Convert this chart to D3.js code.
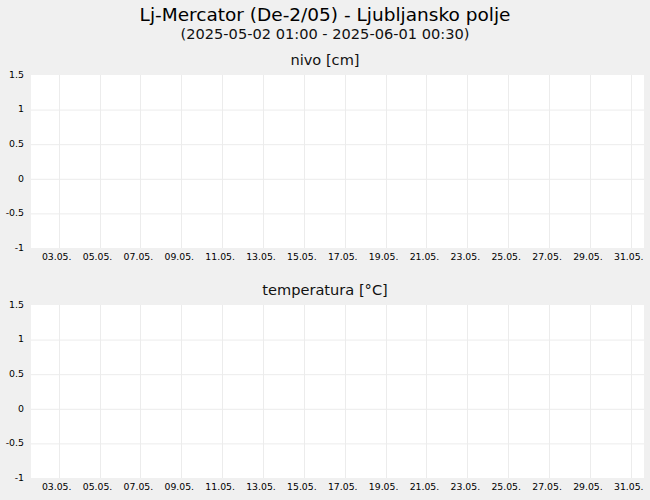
<!DOCTYPE html>
<html>
<head>
<meta charset="utf-8">
<script src="https://cdn.jsdelivr.net/npm/d3@7"></script>
<style>
  body { margin: 0; background: #f0f0f0; }
  svg { display: block; font-family: "DejaVu Sans", sans-serif; }
</style>
</head>
<body>
<svg id="chart" width="650" height="500"></svg>
<script>
// chart texts
var title = "Lj-Mercator (De-2/05) - Ljubljansko polje";
var subtitle = "(2025-05-02 01:00 - 2025-06-01 00:30)";
var panelTitles = ["nivo [cm]", "temperatura [°C]"];

// time range shown on the x axis (as drawn in the picture)
var xStart = "2025-05-01T15:30:00Z";
var xEnd = "2025-05-31T15:30:00Z";

// x tick dates and labels
var tickDates = ["2025-05-03", "2025-05-05", "2025-05-07", "2025-05-09", "2025-05-11",
                 "2025-05-13", "2025-05-15", "2025-05-17", "2025-05-19", "2025-05-21",
                 "2025-05-23", "2025-05-25", "2025-05-27", "2025-05-29", "2025-05-31"];
var tickLabels = ["03.05.", "05.05.", "07.05.", "09.05.", "11.05.", "13.05.", "15.05.", "17.05.",
                  "19.05.", "21.05.", "23.05.", "25.05.", "27.05.", "29.05.", "31.05."];

// y ticks (empty series -> default range)
var yTicks = [-1, -0.5, 0, 0.5, 1, 1.5];
var yTickLabels = ["-1", "-0.5", "0", "0.5", "1", "1.5"];

// series values (no measurements in the period)
var nivo = [];
var temperatura = [];

var svg = d3.select("#chart");

svg.append("text")
  .attr("x", 325).attr("y", 20.5)
  .attr("text-anchor", "middle")
  .style("font-size", "18.5px")
  .text(title);

svg.append("text")
  .attr("x", 325).attr("y", 39)
  .attr("text-anchor", "middle")
  .style("font-size", "14.6px")
  .style("fill", "#111")
  .text(subtitle);

var x = d3.scaleUtc()
  .domain([new Date(xStart), new Date(xEnd)])
  .range([31, 644]);

function drawPanel(offset, name, series) {
  var top = 75 + offset, bottom = 248 + offset;
  var y = d3.scaleLinear().domain([-1, 1.5]).range([bottom, top]);
  var g = svg.append("g");

  g.append("text")
    .attr("x", 325).attr("y", 64.5 + offset)
    .attr("text-anchor", "middle")
    .style("font-size", "14.6px")
    .style("fill", "#111")
    .text(name);

  g.append("rect")
    .attr("x", x.range()[0]).attr("y", top)
    .attr("width", x.range()[1] - x.range()[0])
    .attr("height", bottom - top)
    .style("fill", "#fff");

  // horizontal grid
  g.selectAll(".hgrid")
    .data(yTicks.slice(1, -1))
    .enter()
    .append("line")
      .attr("x1", x.range()[0]).attr("x2", x.range()[1])
      .attr("y1", function(d){ return y(d) + 0.5 })
      .attr("y2", function(d){ return y(d) + 0.5 })
      .style("stroke", "#ececec");

  // vertical grid
  g.selectAll(".vgrid")
    .data(tickDates)
    .enter()
    .append("line")
      .attr("x1", function(d){ return Math.round(x(new Date(d))) + 0.5 })
      .attr("x2", function(d){ return Math.round(x(new Date(d))) + 0.5 })
      .attr("y1", top).attr("y2", bottom)
      .style("stroke", "#ececec");

  // y labels
  g.selectAll(".ylab")
    .data(yTicks)
    .enter()
    .append("text")
      .attr("x", 24)
      .attr("y", function(d){ return y(d) })
      .attr("dy", "0.3em")
      .attr("text-anchor", "end")
      .style("font-size", "9.4px")
      .text(function(d, i){ return yTickLabels[i] });

  // x labels
  g.selectAll(".xlab")
    .data(tickDates)
    .enter()
    .append("text")
      .attr("x", function(d){ return x(new Date(d)) - 2 })
      .attr("y", bottom + 12)
      .attr("text-anchor", "middle")
      .style("font-size", "9.3px")
      .text(function(d, i){ return tickLabels[i] });

  // series line (empty here)
  g.append("path")
    .datum(series)
    .attr("d", d3.line()
      .x(function(d){ return x(new Date(d[0])) })
      .y(function(d){ return y(d[1]) }))
    .style("fill", "none")
    .style("stroke", "#1f4e9c");
}

drawPanel(0, panelTitles[0], nivo);
drawPanel(230, panelTitles[1], temperatura);
</script>
</body>
</html>
